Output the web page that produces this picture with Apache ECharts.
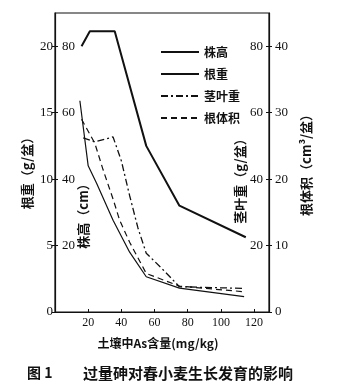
<!DOCTYPE html>
<html>
<head>
<meta charset="utf-8">
<script src="https://cdn.jsdelivr.net/npm/echarts@6/dist/echarts.min.js"></script>
<style>
html,body{margin:0;padding:0;background:#fff;}
#c{width:337px;height:390px;}
</style>
</head>
<body>
<div id="c"></div>
<script>
// ---- data ----
const seriesNames = ['株高', '根重', '茎叶重', '根体积'];
// 株高 (cm)
const plantHeight = [[16, 80], [21, 84.5], [36, 84.5], [55, 50], [75, 32], [115, 22.5]];
// 根重 (g/盆)
const rootWeight = [[15, 15.9], [20, 11], [25, 9.7], [35, 6.9], [45, 4.5], [55, 2.65], [75, 1.8], [114, 1.15]];
// 茎叶重 (g/盆)
const shootWeight = [[17, 52.4], [24, 51.2], [35, 52.7], [40, 45.5], [45, 35], [50, 25.3], [55, 17.7], [65, 12.8], [70, 10.2], [75, 7.6], [114, 7.1]];
// 根体积 (cm³/盆)
const rootVolume = [[16, 29], [24, 25.4], [29, 21.4], [35, 17], [39, 13.8], [45, 10.5], [55, 5.8], [75, 3.9], [114, 3.05]];

const xTicks = [20, 40, 60, 80, 100, 120];
const rootWeightTicks = [0, 5, 10, 15, 20];
const heightTicks = [20, 40, 60, 80];
const shootTicks = [20, 40, 60, 80];
const volumeTicks = [0, 10, 20, 30, 40];

const INK = '#111';
const numFont = 'Liberation Serif';
const cjk = 'Noto Sans CJK SC';

function fmt(list) {
  return function (v) { return list.indexOf(Math.round(v * 100) / 100) >= 0 ? String(v) : ''; };
}

const chart = echarts.init(document.getElementById('c'), null, {renderer: 'canvas'});
const baseAxis = {
  type: 'value',
  splitLine: {show: false},
  axisLine: {show: true, lineStyle: {color: INK, width: 1.2}},
  axisTick: {show: true, length: 3, lineStyle: {color: INK, width: 1}},
  axisLabel: {color: INK, fontFamily: numFont, fontSize: 13, showMaxLabel: false}
};

chart.setOption({
  animation: false,
  backgroundColor: '#fff',
  grid: {left: 55, right: 68, top: 13, bottom: 78, show: true, borderColor: INK, borderWidth: 1.2, backgroundColor: 'transparent'},
  legend: {
    orient: 'vertical', left: 155, top: 41,
    itemWidth: 38, itemHeight: 14, itemGap: 10,
    data: seriesNames,
    itemStyle: {opacity: 0},
    textStyle: {color: INK, fontFamily: cjk, fontSize: 12, fontWeight: 'bold'}
  },
  xAxis: Object.assign({}, baseAxis, {
    min: 0, max: 129, interval: 20,
    axisTick: {show: true, inside: true, length: 3, lineStyle: {color: INK}},
    axisLabel: {color: INK, fontFamily: numFont, fontSize: 12, margin: 5, formatter: fmt(xTicks), showMaxLabel: false, showMinLabel: false}
  }),
  yAxis: [
    Object.assign({}, baseAxis, {
      position: 'left', min: 0, max: 22.5, interval: 5,
      axisLabel: Object.assign({}, baseAxis.axisLabel, {margin: 2, formatter: fmt(rootWeightTicks)})
    }),
    Object.assign({}, baseAxis, {
      position: 'left', min: 0, max: 90, interval: 20,
      axisLine: {show: false},
      axisTick: {show: true, inside: true, length: 3, lineStyle: {color: INK}},
      axisLabel: Object.assign({}, baseAxis.axisLabel, {inside: true, margin: 7, formatter: fmt(heightTicks)})
    }),
    Object.assign({}, baseAxis, {
      position: 'right', min: 0, max: 90, interval: 20,
      axisLine: {show: false},
      axisTick: {show: true, inside: true, length: 3, lineStyle: {color: INK}},
      axisLabel: Object.assign({}, baseAxis.axisLabel, {inside: true, margin: 6, formatter: fmt(shootTicks)})
    }),
    Object.assign({}, baseAxis, {
      position: 'right', min: 0, max: 45, interval: 10,
      axisLabel: Object.assign({}, baseAxis.axisLabel, {margin: 6, formatter: fmt(volumeTicks)})
    })
  ],
  series: [
    {name: seriesNames[0], type: 'line', yAxisIndex: 1, data: plantHeight, symbol: 'none', lineStyle: {color: INK, width: 2}, itemStyle: {color: INK}},
    {name: seriesNames[1], type: 'line', yAxisIndex: 0, data: rootWeight, symbol: 'none', lineStyle: {color: INK, width: 1.2}, itemStyle: {color: INK}},
    {name: seriesNames[2], type: 'line', yAxisIndex: 2, data: shootWeight, symbol: 'none', lineStyle: {color: INK, width: 1.3, type: [7, 3, 2, 3]}, itemStyle: {color: INK}},
    {name: seriesNames[3], type: 'line', yAxisIndex: 3, data: rootVolume, symbol: 'none', lineStyle: {color: INK, width: 1.2, type: [6, 4]}, itemStyle: {color: INK}}
  ],
  graphic: [
    {type: 'text', x: 27, y: 170, rotation: Math.PI / 2, style: {text: '根重（g/盆）', fill: INK, font: 'bold 13px "Noto Sans CJK SC"', align: 'center', verticalAlign: 'middle'}},
    {type: 'text', x: 83, y: 213, rotation: Math.PI / 2, style: {text: '株高（cm）', fill: INK, font: 'bold 13px "Noto Sans CJK SC"', align: 'center', verticalAlign: 'middle'}},
    {type: 'text', x: 240, y: 178, rotation: Math.PI / 2, style: {text: '茎叶重（g/盆）', fill: INK, font: 'bold 13px "Noto Sans CJK SC"', align: 'center', verticalAlign: 'middle'}},
    {type: 'text', x: 306, y: 162, rotation: Math.PI / 2, style: {text: '根体积（cm³/盆）', fill: INK, font: 'bold 13px "Noto Sans CJK SC"', align: 'center', verticalAlign: 'middle'}},
    {type: 'text', x: 158, y: 343, style: {text: '土壤中As含量(mg/kg)', fill: INK, font: 'bold 12px "Noto Sans CJK SC"', align: 'center', verticalAlign: 'middle'}},
    {type: 'text', x: 27, y: 373, style: {text: '图 1', fill: INK, font: 'bold 14px "Noto Sans CJK SC"', align: 'left', verticalAlign: 'middle'}},
    {type: 'text', x: 188, y: 373, style: {text: '过量砷对春小麦生长发育的影响', fill: INK, font: 'bold 15px "Noto Sans CJK SC"', align: 'center', verticalAlign: 'middle'}}
  ]
});
</script>
</body>
</html>
